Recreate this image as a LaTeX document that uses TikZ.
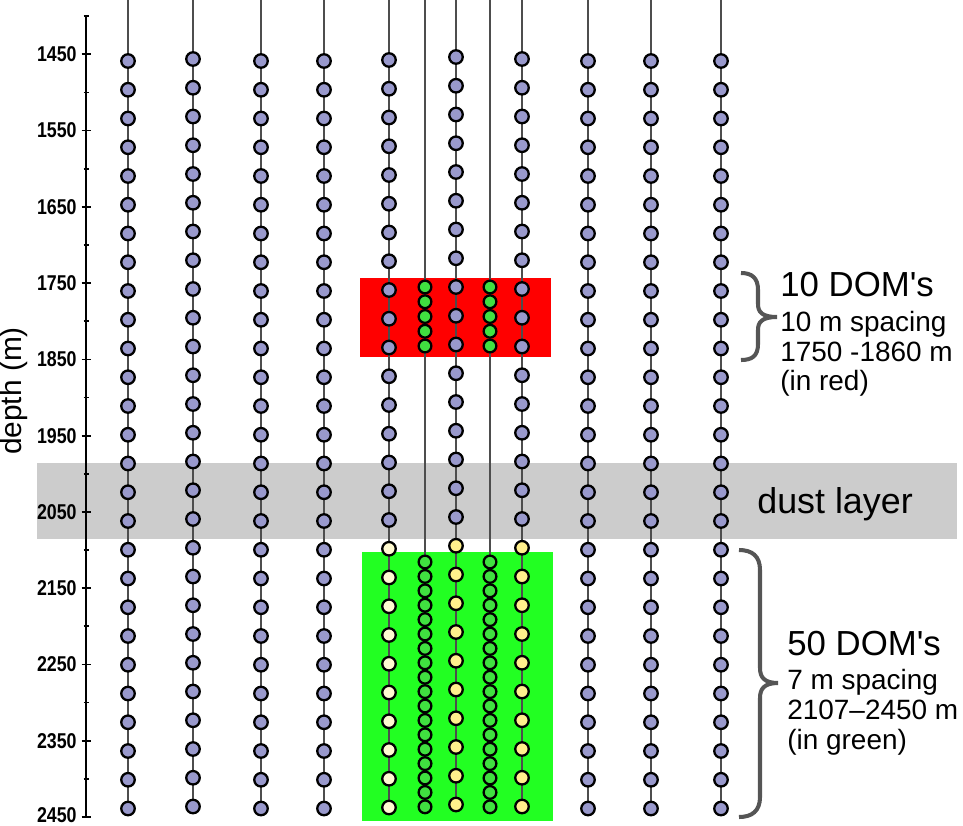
\documentclass[tikz,border=0pt]{standalone}
\usepackage{fontspec}
\setmainfont{Liberation Sans}[Ligatures=TeXOff]
\newfontfamily\axisfont{Liberation Sans}[FakeStretch=0.83]
\usepackage{tikz}
\usetikzlibrary{positioning, backgrounds}

\definecolor{domblue}{RGB}{153,153,204}
\definecolor{domgreen}{RGB}{64,224,64}
\definecolor{domyellow}{RGB}{255,240,140}
\definecolor{domcream}{RGB}{255,250,208}
\definecolor{bandred}{RGB}{255,0,0}
\definecolor{bandgreen}{RGB}{34,255,34}
\definecolor{dustgray}{RGB}{204,204,204}
\definecolor{cablegray}{RGB}{77,77,77}
\definecolor{bracegray}{RGB}{85,85,85}

\begin{document}
\begin{tikzpicture}[x=0.02cm, y=-0.02cm,
    dom/.style={circle, draw=black, line width=1.3pt, fill=domblue, inner sep=0pt, minimum size=0.27cm},
    domcream/.style={dom, fill=domcream},
    domyellow/.style={dom, fill=domyellow},
    domdense/.style={dom, fill=domgreen, minimum size=0.255cm},
    cable/.style={draw=cablegray, line width=1.1pt},
    ticklabel/.style={anchor=east, inner sep=0pt, font=\axisfont\bfseries\fontsize{12.2}{12}\selectfont},
    bigtext/.style={anchor=base west, inner sep=0pt, font=\fontsize{19.8}{22}\selectfont},
    smalltext/.style={anchor=base west, inner sep=0pt, font=\fontsize{15.9}{18}\selectfont},
    bracket/.style={draw=bracegray, line width=2.3pt}]
        \useasboundingbox (0,0) rectangle (963,825);

        % depth axis
        \draw[line width=1.2pt] (86,16) -- (86,817);
        \foreach \d in {1400,1500,...,2400}
            \draw[line width=1pt] (83.5,{54.3+(\d-1450)*0.7627}) -- (88.5,{54.3+(\d-1450)*0.7627});
        \foreach \d in {1450,1550,...,2450} {
            \draw[line width=1pt] (81.5,{54.3+(\d-1450)*0.7627}) -- (90.5,{54.3+(\d-1450)*0.7627});
            \node[ticklabel] (lab\d) at (77,{min(54.3+(\d-1450)*0.7627,815)}) {\d};
        }
        \node[rotate=90, font=\fontsize{17}{20}\selectfont] (depth) at (14,391) {depth (m)};

        % standard strings
        \foreach \sx/\sy/\low [count=\i] in {128/61/dom, 193/59/dom, 261/61/dom, 324/61/dom, 389/60/domcream,
                                             456/57/domyellow, 522/59/domyellow, 588/61/dom, 651/61/dom, 721/61/dom}
            \foreach \k in {0,...,26} {
                \ifnum\k<17
                    \node[dom] (s\i-\k) at (\sx,{\sy+28.75*\k}) {};
                \else
                    \node[\low] (s\i-\k) at (\sx,{\sy+28.75*\k}) {};
                \fi
            }

        % dense strings
        \foreach \sx [count=\i] in {425,490} {
            \foreach \k in {0,...,4}
                \node[domdense] (r\i-\k) at (\sx,{287+14.75*\k}) {};
            \foreach \k in {0,...,17}
                \node[domdense] (g\i-\k) at (\sx,{562+14.4*\k}) {};
        }

        \begin{scope}[on background layer]
            \fill[dustgray] (37,463) rectangle (957,539);
            \fill[bandred] (360,278) rectangle (551,357);
            \fill[bandgreen] (362,552) rectangle (553,821);
            \foreach \sx [count=\i] in {128,193,261,324,389,456,522,588,651,721} {
                \coordinate (top\i) at (\sx,0);
                \draw[cable] (top\i) -- (s\i-26);
            }
            \foreach \sx [count=\i] in {425,490} {
                \coordinate (dtop\i) at (\sx,0);
                \draw[cable] (dtop\i) -- (g\i-17);
            }
        \end{scope}

        \node[anchor=base west, inner sep=0pt, font=\fontsize{20.4}{24}\selectfont] (dust) at (757,513) {dust layer};

        % upper group
        \draw[bracket] (741,273) .. controls (752,273) and (758,278) .. (758,290) -- (758,304)
            .. controls (758,312) and (762,317) .. (777,317) .. controls (762,317) and (758,322) .. (758,330)
            -- (758,344) .. controls (758,356) and (752,360) .. (741,360);
        \node[bigtext] (domsred) at (780,296) {10 DOM's};
        \node[smalltext] (spacingred) at (780,331) {10 m spacing};
        \node[smalltext] (rangered) at (780,361) {1750 -1860 m};
        \node[smalltext] (notered) at (780,390) {(in red)};

        % lower group
        \draw[bracket] (739,550) .. controls (752,550) and (760,556) .. (760,570) -- (760,668)
            .. controls (760,677) and (764,683) .. (778,683) .. controls (764,683) and (760,689) .. (760,698)
            -- (760,797) .. controls (760,811) and (752,817) .. (739,817);
        \node[bigtext] (domsgreen) at (787,655) {50 DOM's};
        \node[smalltext] (spacinggreen) at (787,689) {7 m spacing};
        \node[smalltext] (rangegreen) at (787,719) {2107–2450 m};
        \node[smalltext] (notegreen) at (787,749) {(in green)};
\end{tikzpicture}
\end{document}
